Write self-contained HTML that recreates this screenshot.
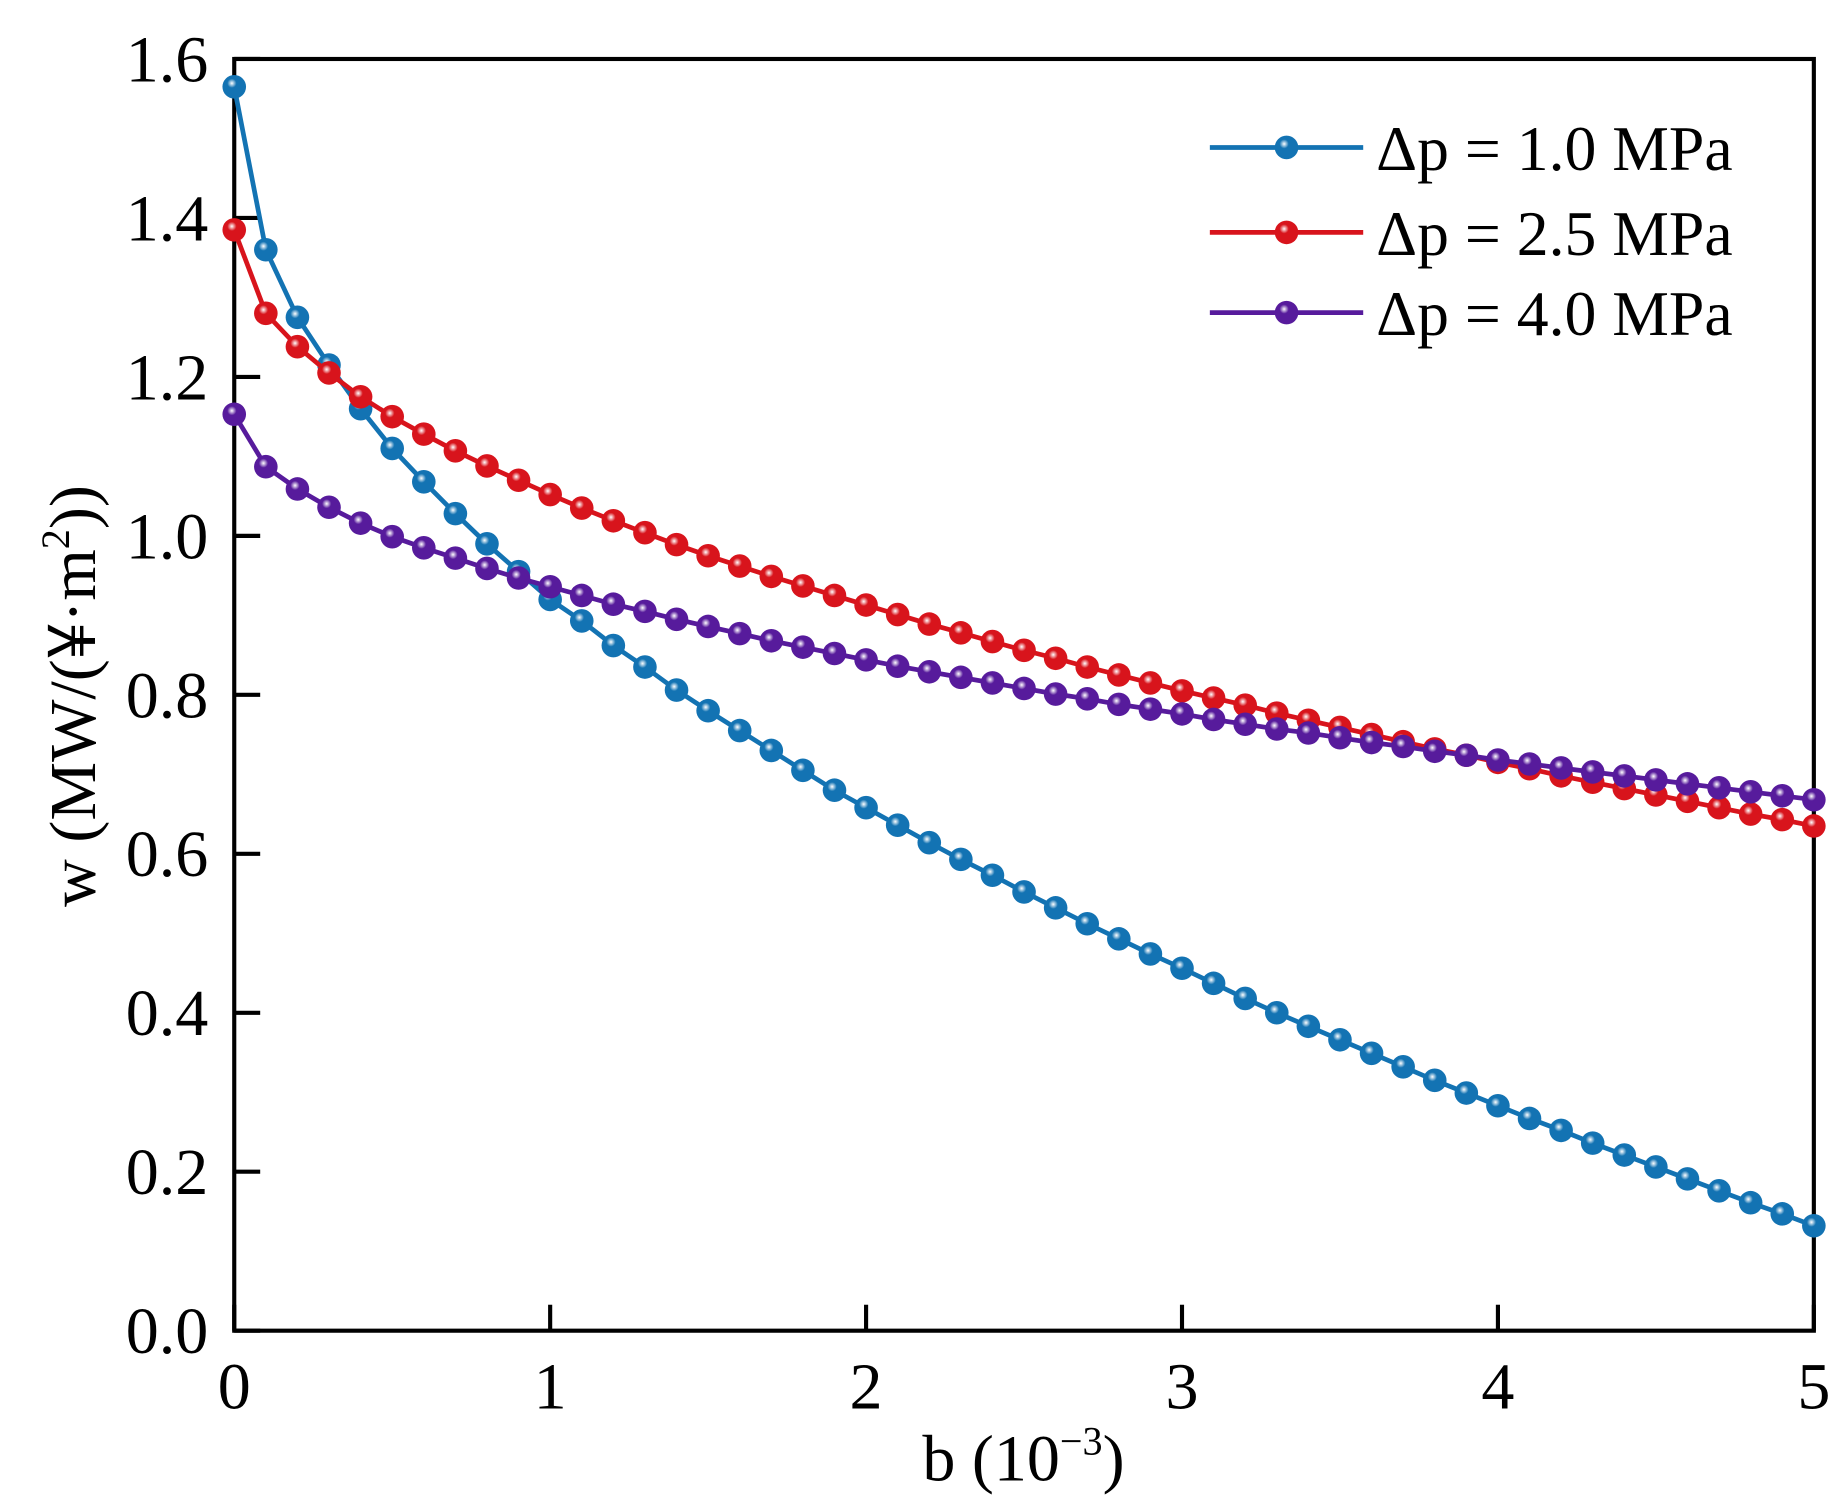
<!DOCTYPE html>
<html><head><meta charset="utf-8"><style>
html,body{margin:0;padding:0;background:#fff;}
svg{display:block;font-family:"Liberation Serif",serif;}
</style></head><body>
<svg id="chart" width="1844" height="1510" viewBox="0 0 1562 1280" xmlns="http://www.w3.org/2000/svg">
<rect width="1562" height="1280" fill="#fff"/>
<g id="plot"></g>
</svg>
<script>
const xValues = [];
for (let i = 0; i <= 50; i++) xValues.push(i / 10);
const series1 = [1.565,1.36,1.275,1.215,1.16,1.11,1.068,1.028,0.99,0.955,0.92,0.893,0.862,0.835,0.806,0.78,0.755,0.73,0.705,0.68,0.658,0.636,0.614,0.593,0.573,0.552,0.532,0.512,0.493,0.474,0.456,0.437,0.418,0.4,0.383,0.366,0.349,0.332,0.315,0.299,0.283,0.267,0.252,0.236,0.221,0.206,0.191,0.176,0.161,0.147,0.132];
const series2 = [1.385,1.28,1.238,1.205,1.175,1.15,1.128,1.107,1.088,1.07,1.052,1.035,1.019,1.004,0.989,0.975,0.962,0.949,0.937,0.925,0.913,0.901,0.889,0.878,0.867,0.856,0.846,0.835,0.825,0.815,0.805,0.796,0.787,0.777,0.768,0.759,0.75,0.741,0.732,0.724,0.715,0.707,0.698,0.69,0.682,0.674,0.666,0.658,0.65,0.643,0.635];
const series3 = [1.153,1.087,1.059,1.036,1.016,0.999,0.985,0.972,0.959,0.947,0.936,0.925,0.914,0.905,0.895,0.886,0.877,0.868,0.86,0.852,0.844,0.836,0.829,0.822,0.815,0.808,0.801,0.795,0.788,0.782,0.776,0.769,0.763,0.757,0.752,0.746,0.74,0.735,0.729,0.724,0.718,0.713,0.708,0.703,0.698,0.693,0.688,0.683,0.678,0.673,0.668];
const xTicks = [0,1,2,3,4,5];
const yTicks = [0,0.2,0.4,0.6,0.8,1.0,1.2,1.4,1.6];
const seriesNames = ["Δp = 1.0 MPa","Δp = 2.5 MPa","Δp = 4.0 MPa"];
const seriesColors = ["#1373b3","#d8141c","#571b9c"];

const L=198,R=1537,T=50,B=1128;
const xs = v => L + (v-0)/(5-0)*(R-L);
const ys = v => B - (v-0)/(1.6-0)*(B-T);
const NS="http://www.w3.org/2000/svg";
const g=document.getElementById('plot');
function mk(tag,attrs,parent){const e=document.createElementNS(NS,tag);for(const k in attrs)e.setAttribute(k,attrs[k]);(parent||g).appendChild(e);return e;}

const defs=mk('defs',{});
seriesColors.forEach((c,i)=>{
  const rg=mk('radialGradient',{id:'grad'+i,cx:'0.4',cy:'0.35',r:'0.65'},defs);
  mk('stop',{offset:'0','stop-color':'#ffffff'},rg);
  mk('stop',{offset:'0.3','stop-color':c},rg);
  mk('stop',{offset:'1','stop-color':c},rg);
});

const frame=mk('rect',{x:L,y:T,width:R-L,height:B-T,fill:'none',stroke:'#000','stroke-width':3.5});



yTicks.forEach(v=>{
  const y=ys(v);
  const t=mk('line',{x1:L,x2:L+22,y1:y,y2:y,stroke:'#000','stroke-width':3.5});
  
  
  const lb=mk('text',{x:L-22,y:y+19,'font-size':56,'text-anchor':'end',fill:'#000'});
  lb.textContent=v.toFixed(1);
  
  
});
xTicks.forEach(v=>{
  const x=xs(v);
  const t=mk('line',{x1:x,x2:x,y1:B,y2:B-22,stroke:'#000','stroke-width':3.5});
  
  
  const lb=mk('text',{x:x,y:B+66,'font-size':56,'text-anchor':'middle',fill:'#000'});
  lb.textContent=String(v);
  
  
});

const allSeries=[series1,series2,series3];
allSeries.forEach((s,i)=>{
  const pts=s.map((v,j)=>xs(xValues[j]).toFixed(1)+','+ys(v).toFixed(1)).join(' ');
  const pl=mk('polyline',{points:pts,fill:'none',stroke:seriesColors[i],'stroke-width':4});
  
  
  s.forEach((v,j)=>{
    const c=mk('circle',{cx:xs(xValues[j]),cy:ys(v),r:10,fill:'url(#grad'+i+')'});
    
    
  });
});

const legendY=[125,197,265];
seriesNames.forEach((n,i)=>{
  const y=legendY[i];
  const ln=mk('line',{x1:1025,x2:1155,y1:y,y2:y,stroke:seriesColors[i],'stroke-width':4});
  
  
  const c=mk('circle',{cx:1090,cy:y,r:10,fill:'url(#grad'+i+')'});
  
  
  const t=mk('text',{x:1166,y:y+19,'font-size':54,fill:'#000'});
  t.textContent=n;
  
  
});

const xt=mk('text',{x:867,y:1255,'font-size':56,'text-anchor':'middle',fill:'#000'});
xt.innerHTML='b (10<tspan dy="-22" font-size="34">−3</tspan><tspan dy="22">)</tspan>';


const yt=mk('text',{x:0,y:0,'font-size':56,'text-anchor':'middle',fill:'#000',transform:'translate(80,590) rotate(-90)'});
yt.innerHTML='w (MW/(<tspan font-family="Noto Sans CJK SC, sans-serif">¥</tspan>·m<tspan dy="-22" font-size="34">2</tspan><tspan dy="22">))</tspan>';


</script>
</body></html>
